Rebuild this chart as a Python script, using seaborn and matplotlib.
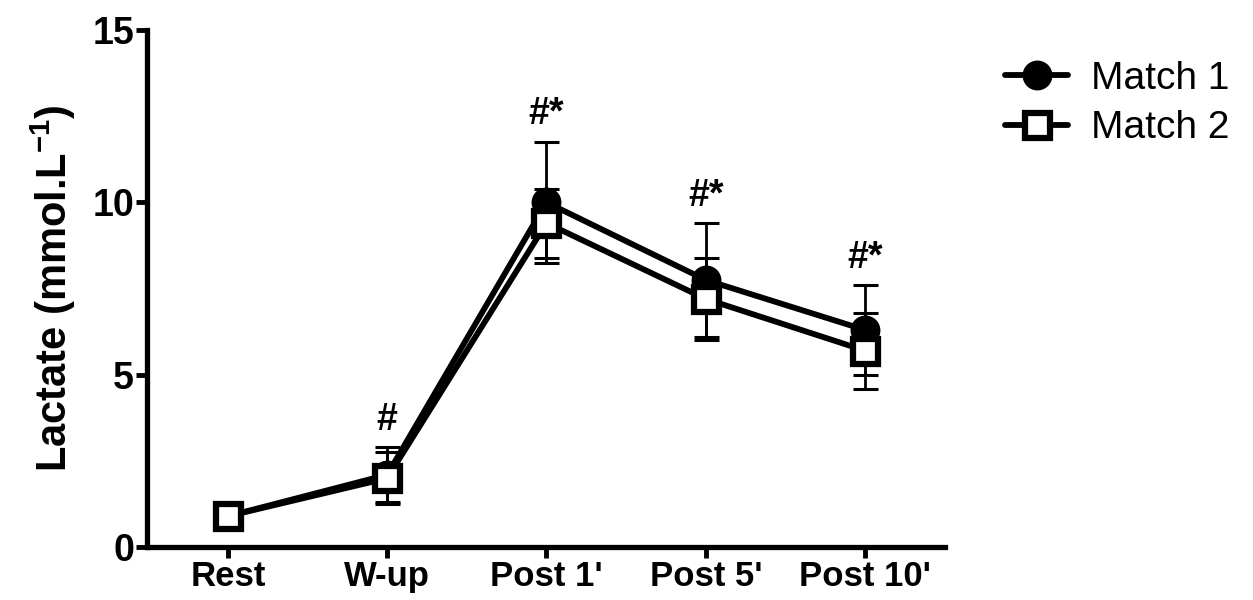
import matplotlib
matplotlib.use("Agg")
import matplotlib.pyplot as plt
import seaborn as sns
import pandas as pd

# values
time_points = ["Rest", "W-up", "Post 1'", "Post 5'", "Post 10'"]
match1_mean = [0.9, 2.1, 10.0, 7.75, 6.3]
match1_sd = [0.2, 0.8, 1.75, 1.65, 1.3]
match2_mean = [0.9, 2.0, 9.4, 7.2, 5.7]
match2_sd = [0.2, 0.75, 1.0, 1.2, 1.1]
marks = ["", "#", "#*", "#*", "#*"]

sns.set_theme(style="ticks")
plt.rcParams["font.family"] = ["Liberation Sans", "DejaVu Sans"]
plt.rcParams["text.color"] = "black"
plt.rcParams["axes.labelcolor"] = "black"
plt.rcParams["xtick.color"] = "black"
plt.rcParams["ytick.color"] = "black"
plt.rcParams["mathtext.fontset"] = "custom"
plt.rcParams["mathtext.rm"] = "Liberation Sans:bold"
plt.rcParams["mathtext.bf"] = "Liberation Sans:bold"

df = pd.DataFrame({
    "pos": list(range(len(time_points))) * 2,
    "lactate": match1_mean + match2_mean,
    "sd": match1_sd + match2_sd,
    "match": ["Match 1"] * len(time_points) + ["Match 2"] * len(time_points),
})

fig = plt.figure(figsize=(12.53, 6), dpi=100)
ax = fig.add_axes([0.117, 0.088, 0.637, 0.862])

styles = {
    "Match 1": dict(marker="o", markerfacecolor="black", markersize=17),
    "Match 2": dict(marker="s", markerfacecolor="white", markersize=18),
}
for i, (name, sub) in enumerate(df.groupby("match")):
    ax.errorbar(sub["pos"], sub["lactate"], yerr=sub["sd"], fmt="none",
                ecolor="black", elinewidth=2, capsize=9, capthick=2.2,
                zorder=2 + i * 2)
    sns.lineplot(data=sub, x="pos", y="lactate", ax=ax, color="black",
                 linewidth=4.2, markeredgecolor="black", markeredgewidth=4.5,
                 label=name, zorder=3 + i * 2, **styles[name])

top = [max(a + b, c + d) for a, b, c, d in zip(match1_mean, match1_sd, match2_mean, match2_sd)]
for i, m in enumerate(marks):
    if m:
        ax.text(i, top[i] + 0.8, m, ha="center", va="center",
                fontsize=27, fontweight="bold")

ax.set_xlim(-0.51, 4.5)
ax.set_ylim(0, 15)
ax.set_xticks(range(len(time_points)))
ax.set_xticklabels(time_points, fontsize=25, fontweight="bold")
ax.set_yticks([0, 5, 10, 15])
ax.set_yticklabels(["0", "5", "10", "15"], fontsize=27, fontweight="bold")
ax.tick_params(axis="both", length=8, width=3.5, pad=1)
ax.set_xlabel("")
ax.set_ylabel(r"Lactate (mmol.L$^{-1}$)", fontsize=30, fontweight="bold", labelpad=10)
for s in ["left", "bottom"]:
    ax.spines[s].set_linewidth(3.8)
    ax.spines[s].set_color("black")
sns.despine(ax=ax)

ax.get_legend().remove()
handles, labels = ax.get_legend_handles_labels()
fig.legend(handles, labels, loc="upper left", bbox_to_anchor=(0.79, 0.925),
           frameon=False, fontsize=28, handlelength=1.6, handletextpad=0.6,
           labelspacing=0.35, borderaxespad=0)

fig.savefig("out.png", dpi=100)
